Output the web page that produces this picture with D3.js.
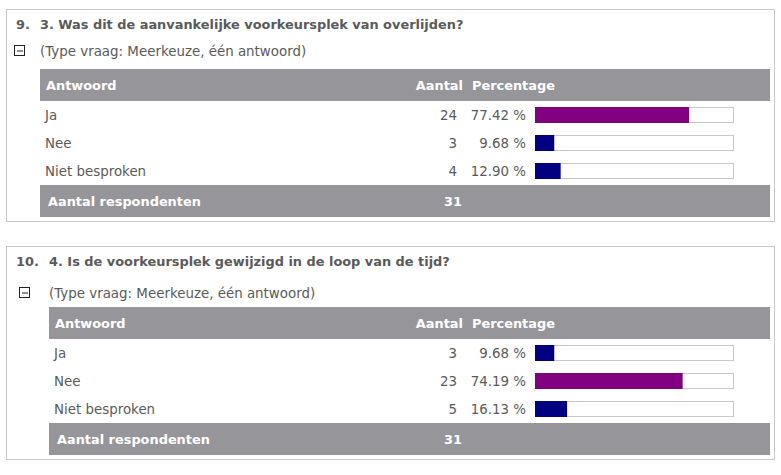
<!DOCTYPE html>
<html>
<head>
<meta charset="utf-8">
<script src="https://cdn.jsdelivr.net/npm/d3@7"></script>
<style>
  body { margin: 0; background: #fff; }
  svg text { font-family: "DejaVu Sans", Verdana, sans-serif; }
</style>
</head>
<body>
<div id="chart"></div>
<script>
// data
const questionNumbers = ["9.", "10."];
const questionTitles = [
  "3. Was dit de aanvankelijke voorkeursplek van overlijden?",
  "4. Is de voorkeursplek gewijzigd in de loop van de tijd?"
];
const questionType = "(Type vraag: Meerkeuze, één antwoord)";
const answers = ["Ja", "Nee", "Niet besproken"];
const countsQ1 = [24, 3, 4];
const percentsQ1 = [77.42, 9.68, 12.90];
const countsQ2 = [3, 23, 5];
const percentsQ2 = [9.68, 74.19, 16.13];
const respondents = [31, 31];
const headerLabels = ["Antwoord", "Aantal", "Percentage"];
const footerLabel = "Aantal respondenten";

const W = 781, H = 475;
const svg = d3.select("#chart").append("svg")
  .attr("width", W).attr("height", H);

const textColor = "#5a5a5a";
const headColor = "#96969a";
const boldSize = "12.9px";
const plainSize = "13.4px";

// bar scale shared by both tables
const x = d3.scaleLinear().domain([0, 100]).range([0, 199]);

const panels = [
  { top: 9, height: 212, indent: 40, icon: 14, iconY: 36, counts: countsQ1, pcts: percentsQ1 },
  { top: 246, height: 213, indent: 49, icon: 19, iconY: 41, counts: countsQ2, pcts: percentsQ2 }
];

panels.forEach((p, i) => {
  const g = svg.append("g").attr("transform", `translate(0,${p.top})`);

  // panel border
  g.append("rect")
    .attr("x", 6.5).attr("y", 0.5)
    .attr("width", 768).attr("height", p.height)
    .attr("fill", "none").attr("stroke", "#c8c8c8");

  // title
  g.append("text")
    .attr("x", 16).attr("y", 20)
    .style("font-size", boldSize).style("font-weight", "700")
    .style("fill", textColor)
    .text(questionNumbers[i]);
  g.append("text")
    .attr("x", p.indent).attr("y", 20)
    .style("font-size", boldSize).style("font-weight", "700")
    .style("fill", textColor)
    .text(questionTitles[i]);

  // collapse icon
  g.append("rect")
    .attr("x", p.icon + 0.5).attr("y", p.iconY + 0.5)
    .attr("width", 10).attr("height", 10)
    .attr("fill", "#fff").attr("stroke", "#222");
  g.append("line")
    .attr("x1", p.icon + 3).attr("x2", p.icon + 9)
    .attr("y1", p.iconY + 6).attr("y2", p.iconY + 6)
    .attr("stroke", "#222");

  g.append("text")
    .attr("x", p.indent).attr("y", p.iconY + 11)
    .style("font-size", plainSize)
    .style("fill", textColor)
    .text(questionType);

  const tableTop = p.height - 152;
  const t = g.append("g").attr("transform", `translate(0,${tableTop})`);
  const rowY = d3.scaleBand().domain(answers).range([32, 116]);

  // header
  t.append("rect")
    .attr("x", p.indent).attr("y", 0)
    .attr("width", 770 - p.indent).attr("height", 32)
    .attr("fill", headColor);
  t.append("text")
    .attr("x", p.indent + 6).attr("y", 21)
    .style("font-size", boldSize).style("font-weight", "700").style("fill", "#fff")
    .text(headerLabels[0]);
  t.append("text")
    .attr("x", 463).attr("y", 21).attr("text-anchor", "end")
    .style("font-size", boldSize).style("font-weight", "700").style("fill", "#fff")
    .text(headerLabels[1]);
  t.append("text")
    .attr("x", 472).attr("y", 21)
    .style("font-size", boldSize).style("font-weight", "700").style("fill", "#fff")
    .text(headerLabels[2]);

  // rows
  const rows = t.selectAll(".row")
    .data(answers.map((a, k) => ({ a, c: p.counts[k], pct: p.pcts[k] })))
    .enter().append("g")
    .attr("class", "row")
    .attr("transform", d => `translate(0,${rowY(d.a)})`);

  rows.append("text")
    .attr("x", p.indent + 5).attr("y", 19)
    .style("font-size", plainSize).style("fill", textColor)
    .text(d => d.a);
  rows.append("text")
    .attr("x", 457).attr("y", 19).attr("text-anchor", "end")
    .style("font-size", plainSize).style("fill", textColor)
    .text(d => d.c);
  rows.append("text")
    .attr("x", 526).attr("y", 19).attr("text-anchor", "end")
    .style("font-size", plainSize).style("fill", textColor)
    .text(d => d.pct.toFixed(2) + " %");

  rows.append("rect")
    .attr("x", 535.5).attr("y", 6.5)
    .attr("width", x(100) - 1).attr("height", 15)
    .attr("fill", "#fff").attr("stroke", "#c8c8c8");
  rows.append("rect")
    .attr("x", 535).attr("y", 6)
    .attr("width", d => x(d.pct)).attr("height", 16)
    .attr("fill", d => d.pct > 50 ? "#800080" : "#000080");

  // footer
  t.append("rect")
    .attr("x", p.indent).attr("y", 116)
    .attr("width", 770 - p.indent).attr("height", 32)
    .attr("fill", headColor);
  t.append("text")
    .attr("x", p.indent + 8).attr("y", 137)
    .style("font-size", boldSize).style("font-weight", "700").style("fill", "#fff")
    .text(footerLabel);
  t.append("text")
    .attr("x", 444).attr("y", 137)
    .style("font-size", boldSize).style("font-weight", "700").style("fill", "#fff")
    .text(respondents[i]);
});
</script>
</body>
</html>
